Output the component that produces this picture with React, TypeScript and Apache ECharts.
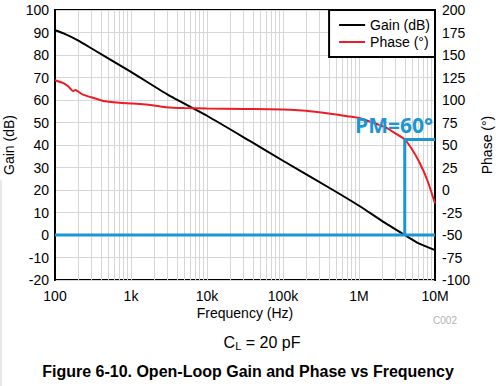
import React, { useEffect, useRef } from "react";
import * as echarts from "echarts";

const gainFreq = [100, 130, 200, 300, 1000, 3000, 10000, 36600, 100000, 455000, 1e6, 2e6, 4e6, 6e6, 1e7];
const gainDb = [91, 89.6, 86.5, 83, 72.5, 62.5, 53, 41.8, 33, 20, 13, 6.3, 0, -3.6, -6.7];

const phaseFreq = [100, 127, 150, 172, 185, 200, 233, 300, 430, 700, 1060, 2000, 2900, 5000, 10000, 30000, 100000, 200000, 400000, 700000, 1e6, 1.5e6, 2.3e6, 3e6, 4e6, 5e6, 6.3e6, 8e6, 1e7];
const phaseDeg = [122, 119, 115, 110, 111, 109.5, 106, 103, 99, 97, 96, 94, 92, 91, 90.5, 90, 89.5, 88, 85, 82, 80, 75, 69, 63, 56, 45, 30, 10, -15];

const freqTicks = [100, 1000, 10000, 100000, 1e6, 1e7];
const freqTickLabels = ["100", "1k", "10k", "100k", "1M", "10M"];

const minorFreqs = [
  200, 300, 400, 500, 600, 700, 800, 900,
  2000, 3000, 4000, 5000, 6000, 7000, 8000, 9000,
  20000, 30000, 40000, 50000, 60000, 70000, 80000, 90000,
  200000, 300000, 400000, 500000, 600000, 700000, 800000, 900000,
  2e6, 3e6, 4e6, 5e6, 6e6, 7e6, 8e6, 9e6,
];

const crossoverFreq = 4e6;
const pmPhase = 56;
const zeroGainPhase = -50;

const FONT = "'Liberation Sans', Arial, sans-serif";
const BLUE = "#1a96d4";
const GRID = "#d6d6d6";

export default function App() {
  const ref = useRef<HTMLDivElement>(null);
  useEffect(() => {
    if (!ref.current) return;
    const chart = echarts.init(ref.current, null, { renderer: "svg" });
    chart.setOption({
      animation: false,
      backgroundColor: "#fff",
      grid: { left: 55, right: 61, top: 10, bottom: 106, show: true, borderColor: "#000", borderWidth: 2, backgroundColor: "#fff", z: 0 },
      legend: {
        right: 61,
        top: 10,
        orient: "vertical",
        backgroundColor: "#fff",
        borderColor: "#000",
        borderWidth: 2,
        padding: [8, 5, 8, 10],
        itemGap: 3,
        itemWidth: 26,
        itemHeight: 2,
        itemTextGap: 8,
        icon: "rect",
        data: ["Gain (dB)", "Phase (°)"],
        textStyle: { fontFamily: FONT, fontSize: 14, color: "#000" },
        z: 10,
      },
      xAxis: {
        type: "log",
        logBase: 10,
        min: 100,
        max: 1e7,
        axisLine: { show: true, lineStyle: { color: "#000", width: 2 } },
        axisTick: { show: false },
        splitLine: { show: true, lineStyle: { color: GRID, width: 1 } },
        axisLabel: {
          margin: 9,
          fontFamily: FONT,
          fontSize: 14,
          color: "#000",
          formatter: (v: number) => {
            const i = freqTicks.findIndex((t) => Math.abs(Math.log10(t) - Math.log10(v)) < 0.01);
            return i >= 0 ? freqTickLabels[i] : "";
          },
        },
      },
      yAxis: [
        {
          type: "value",
          position: "left",
          min: -20,
          max: 100,
          interval: 10,
          axisLine: { show: true, lineStyle: { color: "#000", width: 2 } },
          axisTick: { show: false },
          splitLine: { show: true, lineStyle: { color: GRID, width: 1 } },
          axisLabel: { margin: 6, fontFamily: FONT, fontSize: 14, color: "#000" },
        },
        {
          type: "value",
          position: "right",
          min: -100,
          max: 200,
          interval: 25,
          axisLine: { show: true, lineStyle: { color: "#000", width: 2 } },
          axisTick: { show: false },
          splitLine: { show: false },
          axisLabel: { margin: 7, fontFamily: FONT, fontSize: 14, color: "#000" },
        },
      ],
      series: [
        {
          name: "minor",
          type: "line",
          z: 1,
          data: [[100, -20]],
          showSymbol: false,
          lineStyle: { opacity: 0 },
          silent: true,
          markLine: {
            z: 1,
            silent: true,
            symbol: ["none", "none"],
            label: { show: false },
            lineStyle: { color: GRID, width: 1, type: "solid" },
            data: minorFreqs.map((f) => ({ xAxis: f })),
          },
        },
        {
          name: "Gain (dB)",
          type: "line",
          z: 3,
          yAxisIndex: 0,
          data: gainFreq.map((f, i) => [f, gainDb[i]]),
          showSymbol: false,
          smooth: 0.2,
          lineStyle: { color: "#000", width: 2 },
          itemStyle: { color: "#000" },
        },
        {
          name: "Phase (°)",
          type: "line",
          z: 3,
          yAxisIndex: 1,
          data: phaseFreq.map((f, i) => [f, phaseDeg[i]]),
          showSymbol: false,
          smooth: 0.2,
          lineStyle: { color: "#ee1c25", width: 2 },
          itemStyle: { color: "#ee1c25" },
        },
        {
          name: "zeroLine",
          type: "line",
          z: 4,
          yAxisIndex: 0,
          data: [[100, 0], [1e7, 0]],
          showSymbol: false,
          lineStyle: { color: BLUE, width: 3 },
          silent: true,
        },
        {
          name: "pmBracket",
          type: "line",
          z: 4,
          yAxisIndex: 1,
          data: [[crossoverFreq, zeroGainPhase], [crossoverFreq, pmPhase], [1e7, pmPhase]],
          showSymbol: false,
          lineStyle: { color: BLUE, width: 3 },
          silent: true,
        },
      ],
      graphic: [
        { type: "line", shape: { x1: 1, y1: 180, x2: 1, y2: 386 }, style: { stroke: "#e0e0e0", lineWidth: 1.5 } },
        { type: "text", x: 9, y: 145, rotation: Math.PI / 2, style: { text: "Gain (dB)", fontFamily: FONT, fontSize: 14, fill: "#000", align: "center", verticalAlign: "middle" } },
        { type: "text", x: 487, y: 145, rotation: Math.PI / 2, style: { text: "Phase (°)", fontFamily: FONT, fontSize: 14, fill: "#000", align: "center", verticalAlign: "middle" } },
        { type: "text", x: 245, y: 313, style: { text: "Frequency (Hz)", fontFamily: FONT, fontSize: 14, fill: "#000", align: "center", verticalAlign: "middle" } },
        { type: "text", x: 445, y: 320, style: { text: "C002", fontFamily: FONT, fontSize: 10, fill: "#b0b0b0", align: "center", verticalAlign: "middle" } },
        {
          type: "text",
          x: 262,
          y: 342,
          style: {
            text: "{a|C}{s|L}{a| = 20 pF}",
            align: "center",
            verticalAlign: "middle",
            rich: {
              a: { fontFamily: FONT, fontSize: 16, fill: "#000", color: "#000" },
              s: { fontFamily: FONT, fontSize: 11, fill: "#000", color: "#000", padding: [8, 0, 0, 0] },
            },
          },
        },
        { type: "text", x: 248, y: 371, style: { text: "Figure 6-10. Open-Loop Gain and Phase vs Frequency", fontFamily: FONT, fontSize: 16, fontWeight: "bold", fill: "#000", align: "center", verticalAlign: "middle" } },
        { type: "text", x: 394, y: 125, z: 20, style: { text: "PM=60°", fontFamily: "'Open Sans', 'Noto Sans', sans-serif", fontSize: 21, fontWeight: "bold", fill: BLUE, align: "center", verticalAlign: "middle" } },
      ],
    });
    return () => chart.dispose();
  }, []);
  return <div ref={ref} style={{ position: "fixed", left: 0, top: 0, width: 496, height: 386 }} />;
}
